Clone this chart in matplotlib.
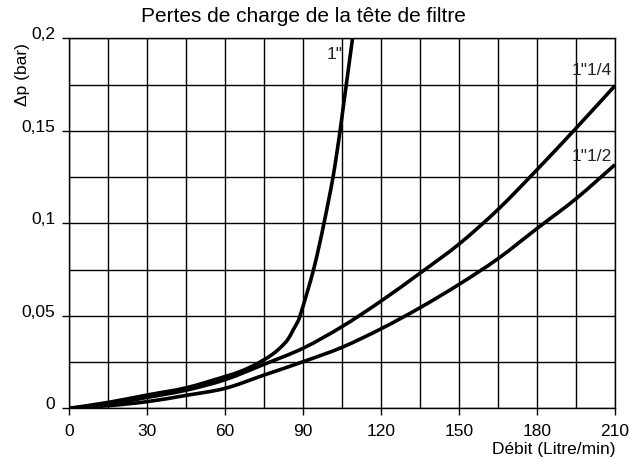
import matplotlib
matplotlib.use("Agg")
import matplotlib.pyplot as plt
import numpy as np
from matplotlib.path import Path
from matplotlib.patches import PathPatch
from matplotlib.transforms import ScaledTranslation

plt.rcParams['font.family'] = ['Liberation Sans', 'DejaVu Sans']

# Data
x_1in = [0, 15, 30, 45, 60, 65, 70, 75, 78, 81, 84, 86.2, 87.8, 88.8, 91.5, 94.0,
         96.1, 98.0, 99.8, 101.5, 102.9, 104.2, 105.4, 106.6, 107.8, 109.0]
y_1in = [0, 0.0032, 0.0072, 0.0111, 0.0172, 0.0195, 0.0225, 0.0263, 0.029, 0.0325, 0.037, 0.0425,
         0.0465, 0.050, 0.0625, 0.075, 0.0875, 0.100, 0.1125, 0.125, 0.1375, 0.150,
         0.1625, 0.175, 0.1875, 0.200]

x_std = [0, 15, 30, 45, 60, 75, 90, 105, 120, 135, 150, 165, 180, 195, 210]
y_1_14 = [0, 0.0023, 0.0059, 0.0098, 0.0155, 0.0238, 0.0325, 0.0442, 0.0580, 0.0731, 0.0888, 0.1075, 0.1290, 0.1514, 0.1744]
y_1_12 = [0, 0.0014, 0.0036, 0.0070, 0.0108, 0.0180, 0.0252, 0.0330, 0.0430, 0.0544, 0.0670, 0.0809, 0.0972, 0.1133, 0.1317]

x_ticks = [0, 30, 60, 90, 120, 150, 180, 210]
x_grid = list(range(0, 211, 15))
y_ticks = [0, 0.05, 0.1, 0.15, 0.2]
y_tick_labels = ["0", "0,05", "0,1", "0,15", "0,2"]
y_grid = [0, 0.025, 0.05, 0.075, 0.1, 0.125, 0.15, 0.175, 0.2]

curve_labels = ['1"', '1"1/4', '1"1/2']

title = "Pertes de charge de la tête de filtre"
xlabel = "Débit (Litre/min)"
ylabel = "Δp (bar)"


def smooth_path(xs, ys):
    """Catmull-Rom curve through the read points, rendered as cubic Bezier."""
    p = np.column_stack([xs, ys]).astype(float)
    n = len(p)
    verts = [p[0]]
    codes = [Path.MOVETO]
    for i in range(n - 1):
        p0 = p[i - 1] if i > 0 else p[i]
        p1 = p[i]
        p2 = p[i + 1]
        p3 = p[i + 2] if i + 2 < n else p[i + 1]
        c1 = p1 + (p2 - p0) / 6.0
        c2 = p2 - (p3 - p1) / 6.0
        verts += [c1, c2, p2]
        codes += [Path.CURVE4] * 3
    return Path(verts, codes)


fig = plt.figure(figsize=(6.29, 4.59), dpi=100)
ax = fig.add_axes([69.3 / 629, 1 - 408.3 / 459, (615 - 69.3) / 629, (408.3 - 38.3) / 459])

ax.set_xlim(0, 210)
ax.set_ylim(0, 0.2)

for gx in x_grid:
    ax.axvline(gx, color='black', lw=1.0, zorder=1)
for gy in y_grid:
    ax.axhline(gy, color='black', lw=1.0, zorder=1)

for s in ax.spines.values():
    s.set_linewidth(1.0)

lw = 2.6
for xs, ys in [(x_1in, y_1in), (x_std, y_1_14), (x_std, y_1_12)]:
    patch = PathPatch(smooth_path(xs, ys), facecolor='none', edgecolor='black', lw=lw,
                      capstyle='butt', zorder=3)
    ax.add_patch(patch)

ax.set_xticks(x_ticks)
ax.set_xticklabels([str(v) for v in x_ticks])
ax.set_yticks(y_ticks)
ax.set_yticklabels(y_tick_labels)
ax.tick_params(axis='both', direction='out', length=5, width=1.0, labelsize=12.5, colors='black')
ax.tick_params(axis='x', pad=6.5)
ax.tick_params(axis='y', pad=5)
for lab in ax.get_yticklabels():
    lab.set_transform(lab.get_transform() + ScaledTranslation(0, 5 / 100, fig.dpi_scale_trans))

# curve labels
ax.text(105.3, 0.191, curve_labels[0], ha='right', va='center', fontsize=12.5, color='#222222')
ax.text(208.8, 0.1827, curve_labels[1], ha='right', va='center', fontsize=12.5, color='#222222')
ax.text(208.8, 0.1362, curve_labels[2], ha='right', va='center', fontsize=12.5, color='#222222')

fig.text(303 / 629, 1 - 17 / 459, title, ha='center', va='center', fontsize=15)
fig.text(615 / 629, 1 - 449.5 / 459, xlabel, ha='right', va='center', fontsize=12.5)
fig.text(22 / 629, 1 - 75 / 459, ylabel, ha='center', va='center', rotation=90, fontsize=12.5)

fig.savefig("out.png", dpi=100)
